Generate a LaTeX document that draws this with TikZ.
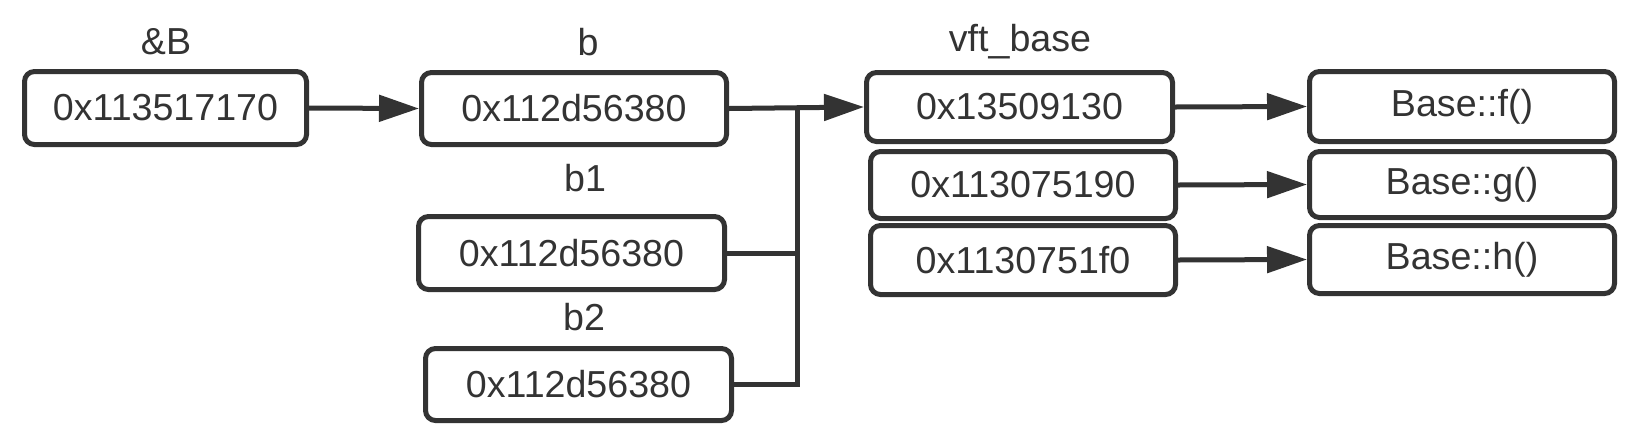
\documentclass[tikz,border=0pt]{standalone}
\usepackage{fontspec}
\setmainfont{Liberation Sans}
\usetikzlibrary{arrows.meta}
\definecolor{ink}{HTML}{333333}
\begin{document}
\begin{tikzpicture}[x=0.5pt,y=-0.5pt,
  cell/.style={draw=ink, line width=2.5pt, rounded corners=5pt, text=ink,
    inner sep=0pt, font=\fontsize{18.8pt}{22pt}\selectfont},
  lbl/.style={text=ink, inner sep=0pt, font=\fontsize{18.8pt}{22pt}\selectfont},
  link/.style={draw=ink, line width=2.5pt},
  arr/.style={link, -{Triangle[length=20pt,width=13pt]}}]
\useasboundingbox (0,0) rectangle (1648,440);
% left column
\node[cell, minimum width=141pt, minimum height=36.5pt] (A) at (165.5,108) {0x113517170};
\node[cell, minimum width=152.5pt, minimum height=36pt] (b) at (574,108.5) {0x112d56380};
\node[cell, minimum width=153pt, minimum height=36.5pt] (b1) at (571.5,253) {0x112d56380};
\node[cell, minimum width=153pt, minimum height=36pt] (b2) at (578.5,384.5) {0x112d56380};
% vft
\node[cell, minimum width=153pt, minimum height=34.5pt] (v1) at (1019.5,107) {0x13509130};
\node[cell, minimum width=152.5pt, minimum height=33.5pt] (v2) at (1023,185) {0x113075190};
\node[cell, minimum width=152.5pt, minimum height=34.5pt] (v3) at (1023,260) {0x1130751f0};
% functions
\node[cell, minimum width=152.5pt, minimum height=35pt] (f) at (1462,106.5) {Base::f()};
\node[cell, minimum width=152.5pt, minimum height=33pt] (g) at (1462,184.5) {Base::g()};
\node[cell, minimum width=152.5pt, minimum height=34pt] (h) at (1462,259.5) {Base::h()};
% labels
\node[lbl] (lA) at (166,42) {\&B};
\node[lbl] (lb) at (588,42) {b};
\node[lbl] (lb1) at (585,178) {b1};
\node[lbl] (lb2) at (584,317) {b2};
\node[lbl] (lv) at (1020,42) {vft\_base};
% connectors
\coordinate (J) at (797,107.5);
\draw[arr] (A.east) -- (b.west);
\draw[arr] (b.east) -- (v1.west);
\draw[link] (b1.east) -- (b1.east -| J);
\draw[link, line join=miter] (b2.east) -| (J);
\draw[arr] (v1.east) -- (f.west);
\draw[arr] (v2.east) -- (g.west);
\draw[arr] (v3.east) -- (h.west);
\end{tikzpicture}
\end{document}
